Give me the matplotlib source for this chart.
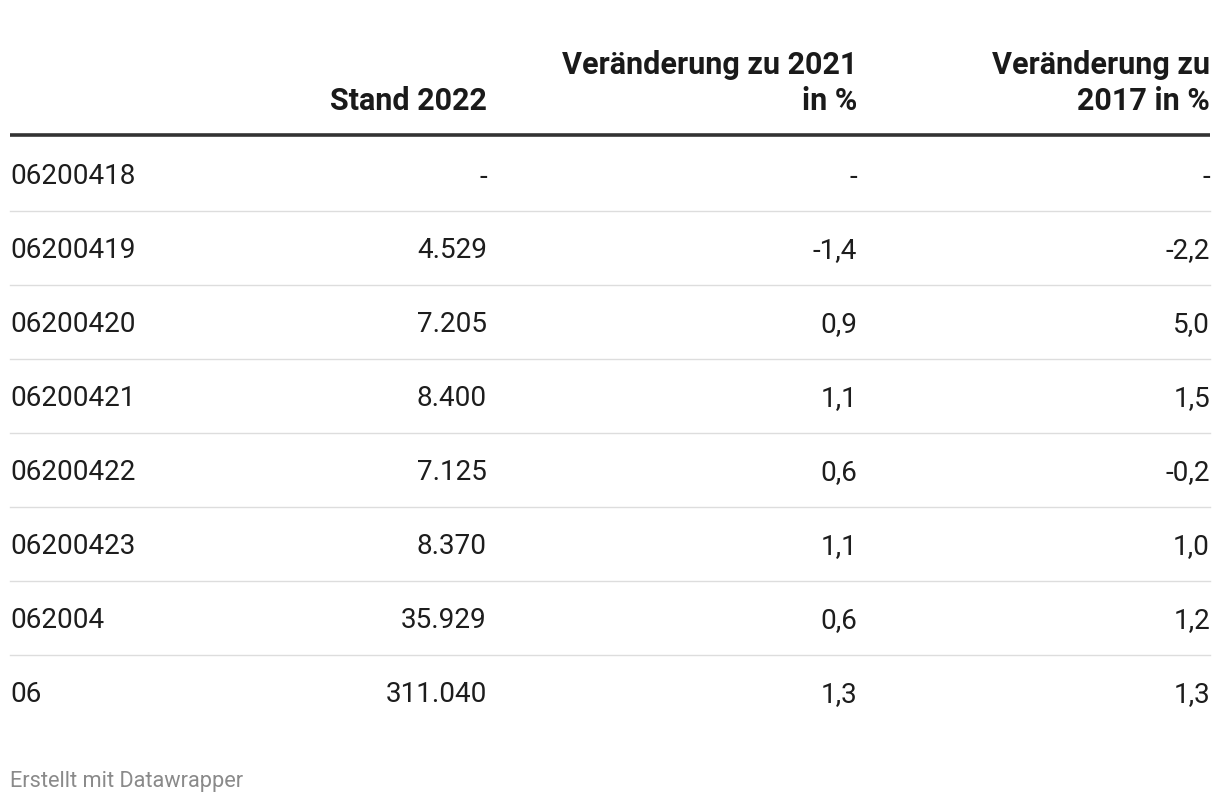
import matplotlib
matplotlib.use('Agg')
import matplotlib.pyplot as plt

# table content
regions=['06200418','06200419','06200420','06200421','06200422','06200423','062004','06']
stand_2022=['-','4.529','7.205','8.400','7.125','8.370','35.929','311.040']
change_2021=['-','-1,4','0,9','1,1','0,6','1,1','0,6','1,3']
change_2017=['-','-2,2','5,0','1,5','-0,2','1,0','1,2','1,3']
headers=[['Stand 2022'],['Veränderung zu 2021','in %'],['Veränderung zu','2017 in %']]
footer='Erstellt mit Datawrapper'

W,H=1220,804
fig=plt.figure(figsize=(W/100,H/100),dpi=100)
ax=fig.add_axes([0,0,1,1])
ax.set_xlim(0,W)
ax.set_ylim(H,0)
ax.axis('off')

font='Roboto'
x_left=10
col_right=[487,857,1210]

# header
for x,lines in zip(col_right,headers):
    for i,line in enumerate(reversed(lines)):
        ax.text(x,101-36*i,line,ha='right',va='center',fontsize=22,fontweight='bold',
                family=font,color='#1a1a1a')
ax.plot([x_left,col_right[-1]],[136,136],color='#333333',lw=2.6,solid_capstyle='butt')

# rows
row_h=74
y0=175
for r,name in enumerate(regions):
    y=y0+r*row_h
    ax.text(x_left,y+2,name,ha='left',va='center',fontsize=20.1,family=font,color='#1d1d1d')
    for x,col in zip(col_right,[stand_2022,change_2021,change_2017]):
        ax.text(x,y+2,col[r],ha='right',va='center',fontsize=20.1,family=font,color='#1d1d1d')
    if r<len(regions)-1:
        ax.plot([x_left,col_right[-1]],[y+row_h/2,y+row_h/2],color='#dddddd',lw=1.0)

ax.text(x_left,782,footer,ha='left',va='center',fontsize=15.7,family=font,color='#8a8a8a')

fig.savefig('out.png',dpi=100)
